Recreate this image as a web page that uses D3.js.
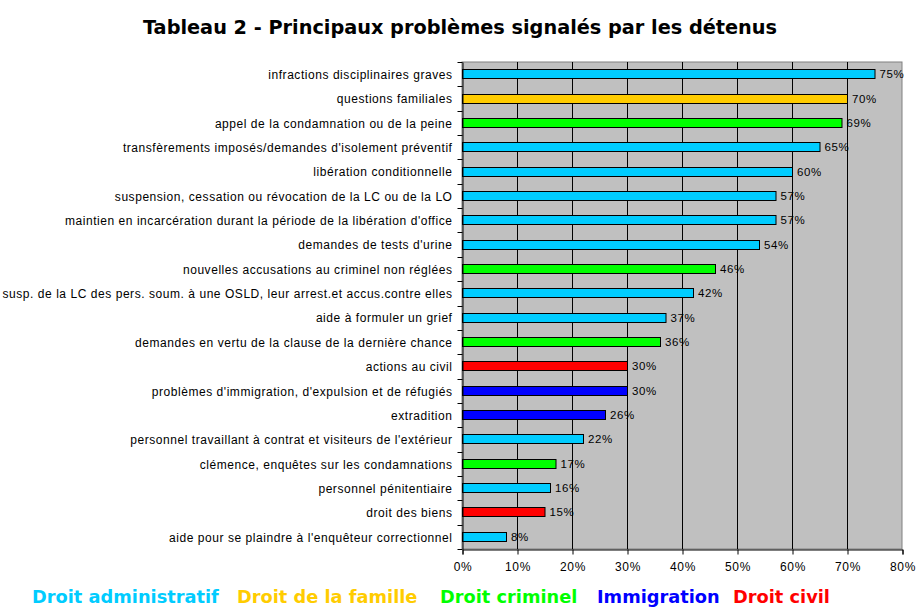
<!DOCTYPE html>
<html>
<head>
<meta charset="utf-8">
<script src="https://cdn.jsdelivr.net/npm/d3@7"></script>
<style>
  body { margin: 0; background: #fff; }
  svg text { font-family: "Liberation Sans", Arial, sans-serif; }
</style>
</head>
<body>
<svg id="chart" width="920" height="607"></svg>
<script>
const categories = [
  "infractions disciplinaires graves",
  "questions familiales",
  "appel de la condamnation ou de la peine",
  "transfèrements imposés/demandes d'isolement préventif",
  "libération conditionnelle",
  "suspension, cessation ou révocation de la LC ou de la LO",
  "maintien en incarcération durant la période de la libération d'office",
  "demandes de tests d'urine",
  "nouvelles accusations au criminel non réglées",
  "susp. de la LC des pers. soum. à une OSLD, leur arrest.et accus.contre elles",
  "aide à formuler un grief",
  "demandes en vertu de la clause de la dernière chance",
  "actions au civil",
  "problèmes d'immigration, d'expulsion et de réfugiés",
  "extradition",
  "personnel travaillant à contrat et visiteurs de l'extérieur",
  "clémence, enquêtes sur les condamnations",
  "personnel pénitentiaire",
  "droit des biens",
  "aide pour se plaindre à l'enquêteur correctionnel"
];
const values = [75, 70, 69, 65, 60, 57, 57, 54, 46, 42, 37, 36, 30, 30, 26, 22, 17, 16, 15, 8];
const groups = ["adm", "fam", "crim", "adm", "adm", "adm", "adm", "adm", "crim", "adm",
                "adm", "crim", "civ", "imm", "imm", "adm", "crim", "adm", "civ", "adm"];
const legendKeys = ["adm", "fam", "crim", "imm", "civ"];
const legendLabels = ["Droit administratif", "Droit de la famille", "Droit criminel", "Immigration", "Droit civil"];
const tickValues = [0, 10, 20, 30, 40, 50, 60, 70, 80];

const svg = d3.select("#chart");
const margin = { left: 462, right: 18, top: 62, bottom: 58 };
const width = 920, height = 607;

const color = d3.scaleOrdinal()
  .domain(legendKeys)
  .range(["#00ccff", "#ffcc00", "#00ff00", "#0000ff", "#ff0000"]);

const x = d3.scaleLinear().domain([0, 80]).range([margin.left, width - margin.right]);
const y = d3.scaleBand().domain(categories).range([margin.top, height - margin.bottom]);

// title
svg.append("text")
  .attr("x", 460).attr("y", 34)
  .attr("text-anchor", "middle")
  .style("font-family", "'DejaVu Sans', Verdana, sans-serif")
  .style("font-weight", "bold")
  .style("font-size", "19.3px")
  .text("Tableau 2 - Principaux problèmes signalés par les détenus");

// plot area
svg.append("rect")
  .attr("x", x(0)).attr("y", margin.top)
  .attr("width", x(80) - x(0)).attr("height", y.range()[1] - margin.top)
  .attr("fill", "#c0c0c0")
  .attr("stroke", "#808080");

// gridlines
svg.append("g")
  .selectAll("line")
  .data(tickValues.slice(1, -1))
  .join("line")
  .attr("x1", (d) => x(d) + 0.5).attr("x2", (d) => x(d) + 0.5)
  .attr("y1", margin.top).attr("y2", y.range()[1])
  .attr("stroke", "#000");

// bars
svg.append("g")
  .selectAll("rect")
  .data(categories)
  .join("rect")
  .attr("x", x(0) + 0.5)
  .attr("y", (d) => Math.round(y(d) + y.bandwidth() / 2 - 5) + 0.5)
  .attr("width", (d, i) => x(values[i]) - x(0))
  .attr("height", 9)
  .attr("fill", (d, i) => color(groups[i]))
  .attr("stroke", "#000");

// value labels
svg.append("g")
  .selectAll("text")
  .data(categories)
  .join("text")
  .attr("x", (d, i) => x(values[i]) + 5)
  .attr("y", (d) => y(d) + y.bandwidth() / 2 + 4)
  .style("font-size", "11.5px")
  .style("letter-spacing", "0.6px")
  .text((d, i) => values[i] + "%");

// y axis
const yAxis = svg.append("g")
  .attr("transform", `translate(${x(0) + 0.5},0)`)
  .call(d3.axisLeft(y).tickSize(0).tickPadding(10));
yAxis.select(".domain").attr("stroke", "#000");
yAxis.selectAll("text")
  .style("font-size", "12px")
  .style("letter-spacing", "0.55px")
  .attr("dy", "0.4em")
  .attr("fill", "#000");
yAxis.selectAll(".bnd")
  .data(categories.concat([null]))
  .join("line")
  .attr("class", "bnd")
  .attr("x1", -5).attr("x2", 0)
  .attr("y1", (d) => Math.round(d ? y(d) : y.range()[1]) + 0.5)
  .attr("y2", (d) => Math.round(d ? y(d) : y.range()[1]) + 0.5)
  .attr("stroke", "#000");

// x axis
const xAxis = svg.append("g")
  .attr("transform", `translate(0.5,${y.range()[1] + 0.5})`)
  .call(d3.axisBottom(x).tickValues(tickValues).tickSize(5).tickPadding(8)
    .tickFormat((d) => d + "%"));
xAxis.select(".domain").attr("stroke", "#000");
xAxis.selectAll("text")
  .style("font-size", "12px")
  .style("letter-spacing", "0.6px")
  .attr("fill", "#000");

// legend
const legendX = [32, 237, 440, 597, 733];
svg.append("g")
  .selectAll("text")
  .data(legendKeys)
  .join("text")
  .attr("x", (d, i) => legendX[i])
  .attr("y", 603)
  .attr("fill", (d) => color(d))
  .style("font-family", "'DejaVu Sans', Verdana, sans-serif")
  .style("font-weight", "bold")
  .style("font-size", "17.8px")
  .text((d, i) => legendLabels[i]);
</script>
</body>
</html>
